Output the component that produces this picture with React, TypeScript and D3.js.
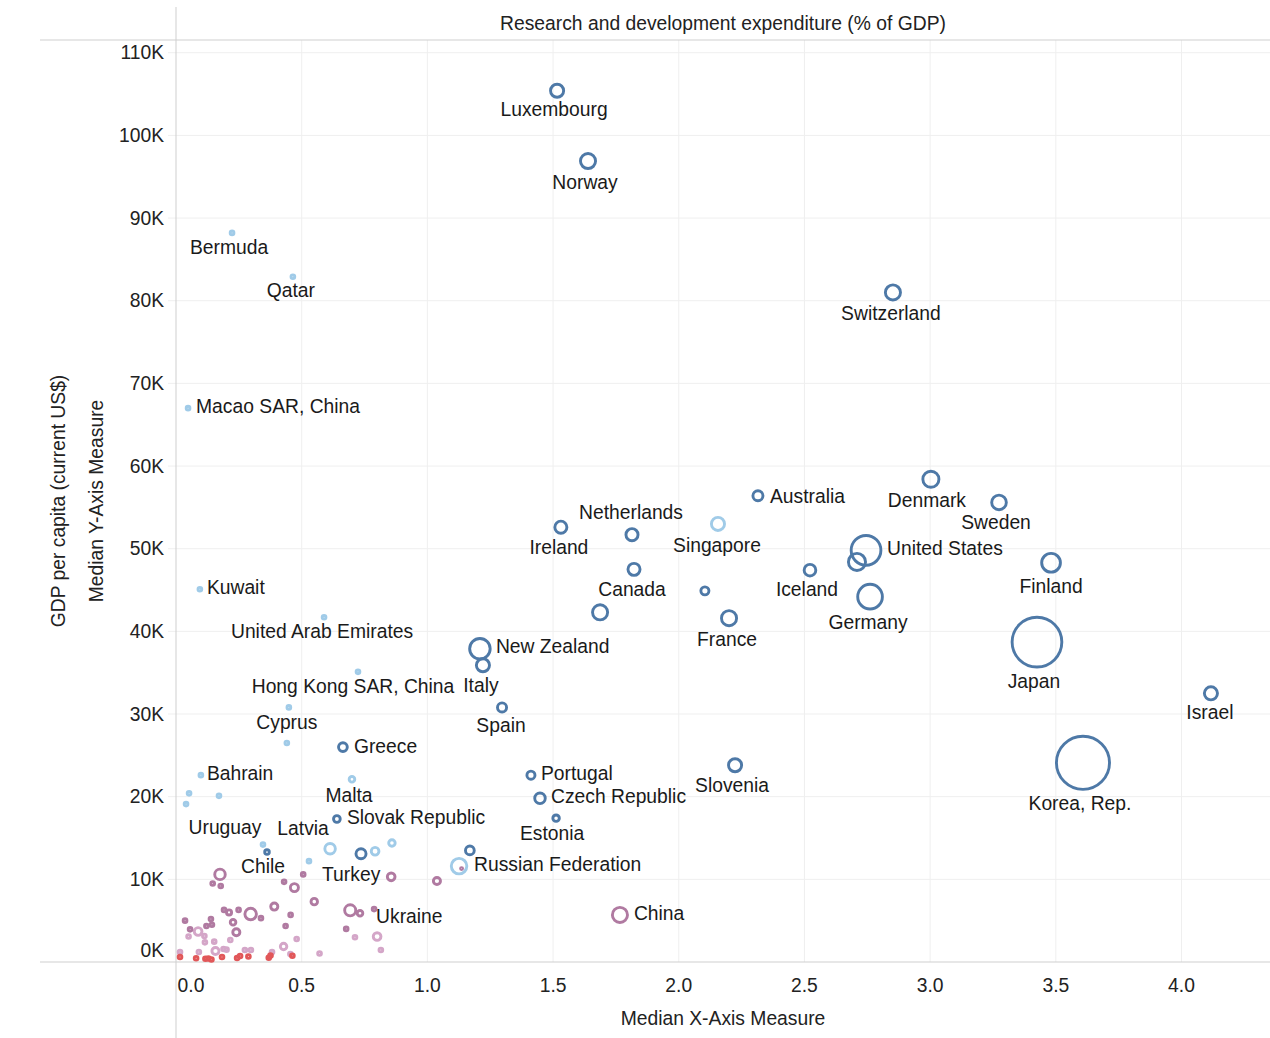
import * as d3 from "d3";

// [country, R&D % of GDP, GDP per capita (K US$), size measure]
type Pt = [string, number, number, number];

const highIncomeOecd: Pt[] = [
  ["Luxembourg", 1.516, 105.4, 64],
  ["Norway", 1.639, 96.9, 81],
  ["Switzerland", 2.852, 81.0, 81],
  ["Denmark", 3.003, 58.4, 90],
  ["Sweden", 3.274, 55.6, 77],
  ["Australia", 2.315, 56.4, 42],
  ["Netherlands", 1.814, 51.7, 56],
  ["Ireland", 1.531, 52.6, 56],
  ["United States", 2.745, 49.8, 266],
  ["", 2.709, 48.4, 100],
  ["Canada", 1.822, 47.5, 56],
  ["Iceland", 2.522, 47.4, 53],
  ["", 2.104, 44.9, 30],
  ["Finland", 3.481, 48.3, 117],
  ["Germany", 2.761, 44.2, 190],
  ["", 1.687, 42.3, 81],
  ["France", 2.2, 41.6, 81],
  ["Japan", 3.425, 38.7, 692],
  ["Israel", 4.117, 32.5, 64],
  ["Korea, Rep.", 3.608, 24.1, 784],
  ["New Zealand", 1.209, 37.9, 137],
  ["Italy", 1.221, 35.9, 64],
  ["Spain", 1.297, 30.8, 36],
  ["Greece", 0.664, 26.0, 34],
  ["Slovenia", 2.224, 23.8, 64],
  ["Portugal", 1.412, 22.6, 30],
  ["Czech Republic", 1.448, 19.8, 45],
  ["Slovak Republic", 0.64, 17.3, 23],
  ["Estonia", 1.512, 17.4, 22],
  ["", 1.169, 13.5, 34],
  ["", 0.736, 13.1, 42],
  ["Chile", 0.362, 13.3, 14],
];

const highIncomeNonOecd: Pt[] = [
  ["Singapore", 2.156, 53.0, 64],
  ["Russian Federation", 1.126, 11.6, 85],
  ["Bermuda", 0.223, 88.2, 11],
  ["Qatar", 0.465, 82.9, 11],
  ["Macao SAR, China", 0.048, 67.0, 11],
  ["Kuwait", 0.095, 45.1, 11],
  ["United Arab Emirates", 0.589, 41.7, 11],
  ["Hong Kong SAR, China", 0.724, 35.1, 11],
  ["Cyprus", 0.449, 30.8, 11],
  ["", 0.441, 26.5, 11],
  ["Bahrain", 0.099, 22.6, 11],
  ["", 0.052, 20.4, 11],
  ["", 0.04, 19.1, 11],
  ["", 0.171, 20.1, 11],
  ["Malta", 0.7, 22.1, 18],
  ["Uruguay", 0.346, 14.2, 11],
  ["Latvia", 0.613, 13.7, 45],
  ["", 0.529, 12.2, 11],
  ["", 0.792, 13.4, 28],
  ["", 0.859, 14.4, 22],
];

const upperMiddleIncome: Pt[] = [
  ["", 0.175, 10.6, 45],
  ["", 0.146, 9.5, 11],
  ["", 0.178, 9.2, 11],
  ["", 0.43, 9.7, 11],
  ["", 0.471, 9.0, 30],
  ["", 0.506, 10.6, 11],
  ["", 0.55, 7.3, 22],
  ["Turkey", 0.856, 10.3, 28],
  ["", 1.038, 9.8, 25],
  ["", 1.136, 11.3, 6],
  ["", 0.693, 6.25, 49],
  ["", 0.732, 5.9, 18],
  ["", 0.788, 6.4, 11],
  ["", 0.677, 4.0, 11],
  ["China", 1.766, 5.7, 81],
  ["", 0.297, 5.8, 52],
  ["", 0.338, 5.3, 11],
  ["", 0.391, 6.7, 25],
  ["", 0.249, 6.3, 11],
  ["", 0.191, 6.3, 11],
  ["", 0.211, 6.0, 16],
  ["", 0.227, 4.8, 18],
  ["", 0.24, 3.6, 25],
  ["", 0.139, 5.2, 11],
  ["", 0.121, 4.35, 11],
  ["", 0.143, 4.5, 11],
  ["", 0.056, 3.95, 11],
  ["", 0.036, 5.0, 11],
  ["", 0.456, 5.7, 11],
  ["", 0.436, 4.35, 11],
];

const lowerMiddleIncome: Pt[] = [
  ["", 0.088, 3.69, 28],
  ["", 0.05, 3.08, 11],
  ["", 0.113, 3.15, 11],
  ["", 0.115, 2.38, 11],
  ["", 0.152, 2.46, 11],
  ["", 0.216, 2.66, 11],
  ["", 0.016, 1.21, 11],
  ["", 0.091, 1.21, 11],
  ["", 0.157, 1.33, 25],
  ["", 0.189, 1.57, 11],
  ["", 0.201, 1.49, 11],
  ["", 0.274, 1.45, 11],
  ["", 0.298, 1.45, 11],
  ["", 0.382, 1.21, 11],
  ["", 0.428, 1.88, 22],
  ["", 0.48, 2.78, 11],
  ["", 0.455, 0.97, 11],
  ["", 0.571, 1.03, 11],
  ["", 0.712, 2.99, 11],
  ["Ukraine", 0.8, 3.08, 28],
  ["", 0.815, 1.45, 11],
];

const lowIncome: Pt[] = [
  ["", 0.016, 0.6, 11],
  ["", 0.08, 0.45, 11],
  ["", 0.117, 0.4, 11],
  ["", 0.129, 0.42, 11],
  ["", 0.141, 0.3, 11],
  ["", 0.183, 0.6, 11],
  ["", 0.243, 0.48, 11],
  ["", 0.255, 0.73, 11],
  ["", 0.288, 0.67, 11],
  ["", 0.369, 0.52, 11],
  ["", 0.376, 0.79, 11],
  ["", 0.463, 0.76, 11],
];

const xTicks = [0, 0.5, 1, 1.5, 2, 2.5, 3, 3.5, 4];
const yTicks = [0, 10, 20, 30, 40, 50, 60, 70, 80, 90, 100, 110];

const groups: [Pt[], string][] = [
  [highIncomeOecd, "#4e79a7"],
  [highIncomeNonOecd, "#a0cbe8"],
  [upperMiddleIncome, "#b07aa1"],
  [lowerMiddleIncome, "#d4a6c8"],
  [lowIncome, "#e15759"],
];

// label placement relative to the mark: dx, dy, anchor
const labelPos: Record<string, [number, number, string]> = {
  Luxembourg: [-3, 18, "middle"],
  Norway: [-3, 21, "middle"],
  Switzerland: [-2, 21, "middle"],
  Bermuda: [-3, 14, "middle"],
  Qatar: [-2, 14, "middle"],
  "Macao SAR, China": [8, -2, "start"],
  Denmark: [-4, 21, "middle"],
  Sweden: [-3, 20, "middle"],
  Australia: [12, 0, "start"],
  Netherlands: [-1, -22, "middle"],
  Ireland: [-2, 20, "middle"],
  Singapore: [-1, 21, "middle"],
  "United States": [21, -2, "start"],
  Canada: [-2, 20, "middle"],
  Iceland: [-3, 19, "middle"],
  Finland: [0, 23, "middle"],
  Germany: [-2, 26, "middle"],
  France: [-2, 21, "middle"],
  Kuwait: [7, -2, "start"],
  "United Arab Emirates": [-2, 14, "middle"],
  "New Zealand": [16, -2, "start"],
  Japan: [-3, 39, "middle"],
  "Hong Kong SAR, China": [-5, 14, "middle"],
  Italy: [-2, 20, "middle"],
  Israel: [-1, 19, "middle"],
  Cyprus: [-2, 15, "middle"],
  Spain: [-1, 18, "middle"],
  Greece: [11, -1, "start"],
  Bahrain: [6, -2, "start"],
  Portugal: [10, -2, "start"],
  Slovenia: [-3, 20, "middle"],
  Malta: [-3, 16, "middle"],
  "Czech Republic": [11, -2, "start"],
  "Korea, Rep.": [-3, 40, "middle"],
  "Slovak Republic": [10, -2, "start"],
  Estonia: [-4, 15, "middle"],
  Uruguay: [-38, -17, "middle"],
  Latvia: [-27, -21, "middle"],
  Chile: [-4, 14, "middle"],
  Turkey: [-40, -3, "middle"],
  "Russian Federation": [15, -2, "start"],
  China: [14, -2, "start"],
  Ukraine: [-1, -20, "start"],
};

const W = 1270;
const H = 1038;
const left = 176;
const top = 40;
const bottom = 962;
const font = "'Liberation Sans', Arial, Helvetica, sans-serif";
const fs = 19.3;
const strokeW = 2.9;

export default function App() {
  const x = d3.scaleLinear().domain([0, 4.352]).range([left, W]);
  const y = d3.scaleLinear().domain([0, 111.54]).range([bottom, top]);
  const r = d3.scaleSqrt().domain([0, 784]).range([0, 28]);

  const marks = groups
    .flatMap(([pts, color]) => pts.map((p) => ({ name: p[0], xv: p[1], yv: p[2], size: p[3], color })))
    .sort((a, b) => b.size - a.size);

  const labeled = marks.filter((m) => m.name && labelPos[m.name]);

  return (
    <svg width={W} height={H} style={{ position: "absolute", left: 0, top: 0, background: "#fff" }} fontFamily={font}>
      {/* gridlines */}
      {xTicks.filter((t) => t > 0).map((t) => (
        <line key={"gx" + t} x1={x(t)} x2={x(t)} y1={top} y2={bottom} stroke="#efefef" strokeWidth={1} />
      ))}
      {yTicks.filter((t) => t > 0).map((t) => (
        <line key={"gy" + t} x1={left - 8} x2={W} y1={y(t)} y2={y(t)} stroke="#efefef" strokeWidth={1} />
      ))}

      {/* frame */}
      <line x1={40} x2={W} y1={top} y2={top} stroke="#cfcfcf" />
      <line x1={40} x2={W} y1={bottom} y2={bottom} stroke="#cfcfcf" />
      <line x1={left} x2={left} y1={7} y2={H} stroke="#cfcfcf" />

      {/* header */}
      <text x={(left + W) / 2} y={23} textAnchor="middle" dy="0.35em" fontSize={fs} fill="#222">
        Research and development expenditure (% of GDP)
      </text>

      {/* y ticks */}
      {yTicks.map((t) => (
        <text key={"ty" + t} x={164} y={t === 0 ? y(t) - 12 : y(t)} dy="0.35em" textAnchor="end" fontSize={fs} fill="#222">
          {t + "K"}
        </text>
      ))}
      {/* x ticks */}
      {xTicks.map((t) => (
        <text key={"tx" + t} x={t === 0 ? x(t) + 15 : x(t)} y={985} dy="0.35em" textAnchor="middle" fontSize={fs} fill="#222">
          {d3.format(".1f")(t)}
        </text>
      ))}

      {/* axis titles */}
      <text x={(left + W) / 2} y={1018} dy="0.35em" textAnchor="middle" fontSize={fs} fill="#222">
        Median X-Axis Measure
      </text>
      <text transform={`translate(58,${(top + bottom) / 2}) rotate(-90)`} dy="0.35em" textAnchor="middle" fontSize={fs} fill="#222">
        GDP per capita (current US$)
      </text>
      <text transform={`translate(96,${(top + bottom) / 2}) rotate(-90)`} dy="0.35em" textAnchor="middle" fontSize={fs} fill="#222">
        Median Y-Axis Measure
      </text>

      {/* marks */}
      {marks.map((m, i) => (
        <circle
          key={"m" + i}
          cx={x(m.xv)}
          cy={y(m.yv)}
          r={Math.max(r(m.size) - strokeW / 2, 0.6)}
          fill="none"
          stroke={m.color}
          strokeWidth={strokeW}
        />
      ))}

      {/* labels */}
      {labeled.map((m) => {
        const [dx, dy, anchor] = labelPos[m.name];
        return (
          <text
            key={"l" + m.name}
            x={x(m.xv) + dx}
            y={y(m.yv) + dy}
            dy="0.35em"
            textAnchor={anchor}
            fontSize={fs}
            fill="#1a1a1a"
          >
            {m.name}
          </text>
        );
      })}
    </svg>
  );
}
